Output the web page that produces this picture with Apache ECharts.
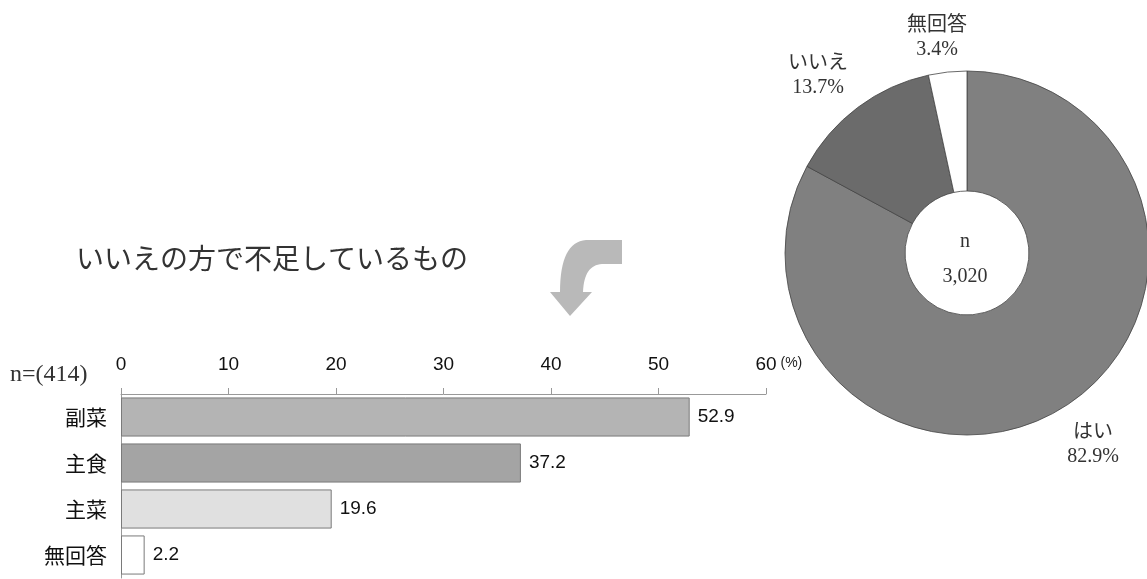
<!DOCTYPE html>
<html><head><meta charset="utf-8">
<script src="https://cdn.jsdelivr.net/npm/echarts@6/dist/echarts.min.js"></script>
<style>html,body{margin:0;padding:0;background:#fff}#c{width:1147px;height:579px}</style>
</head><body><div id="c"></div>
<script>
// Bar chart data
var barCategories = ['副菜', '主食', '主菜', '無回答'];
var barValues = [52.9, 37.2, 19.6, 2.2];
var barColors = ['#b4b4b4', '#a4a4a4', '#e0e0e0', '#ffffff'];
var xTicks = [0, 10, 20, 30, 40, 50, 60];
// Pie data
var pieNames = ['はい', 'いいえ', '無回答'];
var pieValues = [82.9, 13.7, 3.4];
var pieColors = ['#808080', '#6b6b6b', '#ffffff'];
var pieN = '3,020';
var barN = 'n=(414)';
var titleText = 'いいえの方で不足しているもの';

var SERIF = '"Liberation Serif", "DejaVu Serif", "Noto Sans CJK JP", serif';
var SANS = '"Liberation Sans", Arial, "Noto Sans CJK JP", sans-serif';
var JP = '"Noto Sans CJK JP", sans-serif';

var labelPos = {
  'はい': [1093, 445],
  'いいえ': [818, 76],
  '無回答': [937, 38]
};

// decorative arrow outline (quadratic curves sampled)
function quad(p0, p1, p2, n) {
  var pts = [];
  for (var i = 0; i <= n; i++) {
    var t = i / n, u = 1 - t;
    pts.push([u * u * p0[0] + 2 * u * t * p1[0] + t * t * p2[0], u * u * p0[1] + 2 * u * t * p1[1] + t * t * p2[1]]);
  }
  return pts;
}
var arrowPts = [[622, 240]]
  .concat(quad([586, 240], [560, 242], [560, 292], 16))
  .concat([[550, 292], [570, 316], [592, 292]])
  .concat(quad([583, 292], [584, 265], [602, 264], 16))
  .concat([[622, 264]]);

var chart = echarts.init(document.getElementById('c'), null, {renderer: 'canvas'});
chart.setOption({
  backgroundColor: '#fff',
  animation: false,
  grid: {left: 121, right: 381, top: 394, bottom: 1, containLabel: false},
  xAxis: {
    type: 'value', position: 'top', min: xTicks[0], max: xTicks[xTicks.length - 1], interval: 10,
    name: '(%)', nameLocation: 'end', nameGap: 10,
    nameTextStyle: {fontSize: 14, color: '#222', fontFamily: SANS, verticalAlign: 'bottom', padding: [0, 0, 24, 0]},
    axisLine: {show: true, lineStyle: {color: '#999', width: 1}},
    axisTick: {show: true, length: 6, lineStyle: {color: '#999'}},
    axisLabel: {fontSize: 19, color: '#111', fontFamily: SANS, margin: 20},
    splitLine: {show: false}
  },
  yAxis: {
    type: 'category', inverse: true, data: barCategories,
    axisLine: {show: true, lineStyle: {color: '#999', width: 1}},
    axisTick: {show: false},
    axisLabel: {fontSize: 21, color: '#111', fontFamily: JP, margin: 14}
  },
  series: [{
    type: 'bar',
    barCategoryGap: '15%',
    data: barValues.map(function (v, i) {
      return {value: v, itemStyle: {color: barColors[i]}};
    }),
    itemStyle: {borderColor: '#7a7a7a', borderWidth: 1},
    label: {show: true, position: 'right', distance: 8, fontSize: 19, color: '#111', fontFamily: SANS,
      formatter: function (p) { return p.value.toFixed(1); }},
    silent: true
  }, {
    type: 'pie',
    center: [967, 253],
    radius: [62, 182],
    startAngle: 90,
    clockwise: true,
    data: pieNames.map(function (n, i) {
      return {name: n, value: pieValues[i], itemStyle: {color: pieColors[i]}};
    }),
    itemStyle: {borderColor: '#444', borderWidth: 0.8},
    label: {show: true, position: 'outside', fontSize: 20, color: '#333', fontFamily: SERIF, lineHeight: 24, align: 'center',
      overflow: 'none', edgeDistance: 0, bleedMargin: 0,
      formatter: function (p) { return p.name + '\n' + p.value.toFixed(1) + '%'; }},
    labelLine: {show: false},
    labelLayout: function (params) {
      var nm = pieNames[params.dataIndex];
      var pos = labelPos[nm];
      return {x: pos[0], y: pos[1], align: 'center', verticalAlign: 'middle', width: 120};
    },
    silent: true
  }],
  graphic: [
    {type: 'text', x: 76, y: 258, style: {text: titleText, fontSize: 28, fill: '#333', fontFamily: JP, verticalAlign: 'middle'}},
    {type: 'text', x: 10, y: 375, style: {text: barN, fontSize: 24, fill: '#333', fontFamily: SERIF, verticalAlign: 'middle'}},
    {type: 'text', x: 965, y: 242, style: {text: 'n', fontSize: 20, fill: '#333', fontFamily: SERIF, align: 'center', verticalAlign: 'middle'}},
    {type: 'text', x: 965, y: 277, style: {text: pieN, fontSize: 20, fill: '#333', fontFamily: SERIF, align: 'center', verticalAlign: 'middle'}},
    {type: 'polygon', shape: {points: arrowPts}, style: {fill: '#b9b9b9'}}
  ]
});
</script></body></html>
